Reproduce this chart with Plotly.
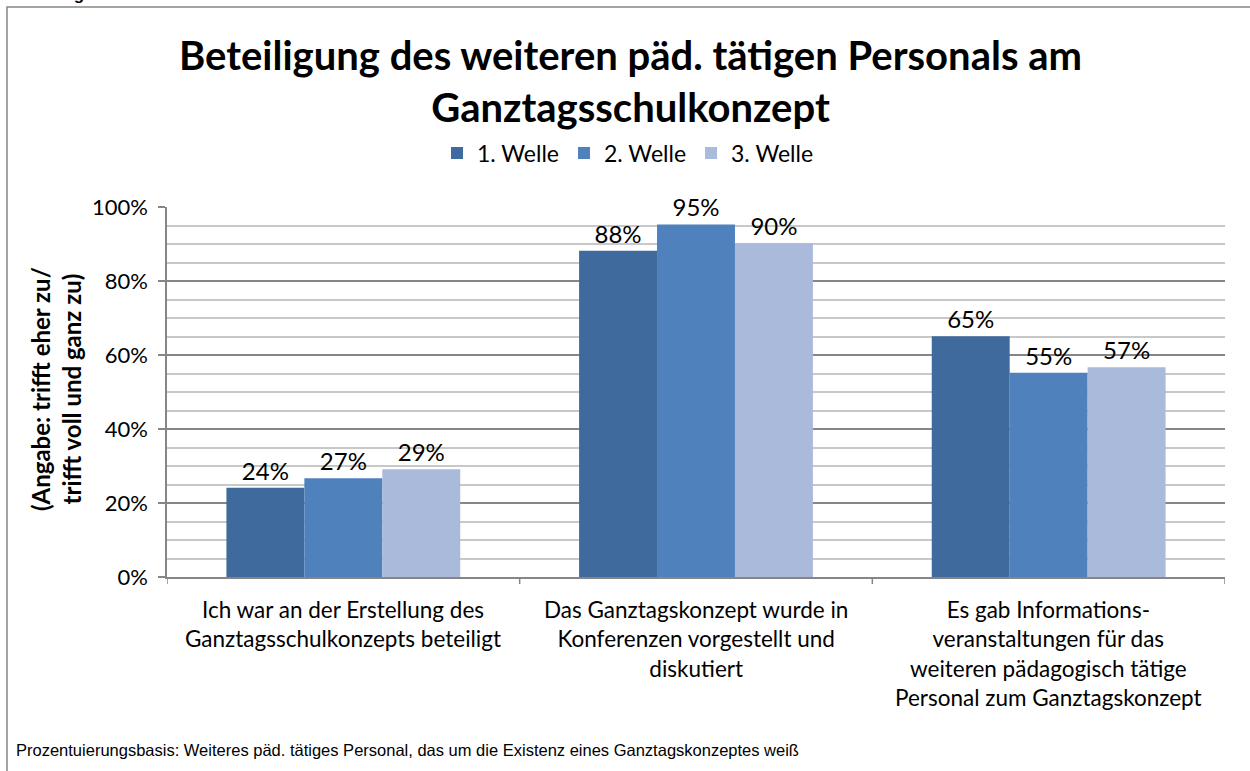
import plotly.graph_objects as go

# Werte in Prozent
kategorien = [
    "Ich war an der Erstellung des<br>Ganztagsschulkonzepts beteiligt",
    "Das Ganztagskonzept wurde in<br>Konferenzen vorgestellt und<br>diskutiert",
    "Es gab Informations-<br>veranstaltungen für das<br>weiteren pädagogisch tätige<br>Personal zum Ganztagskonzept",
]
welle1 = [24.1, 88.2, 65.1]
welle2 = [26.7, 95.3, 55.2]
welle3 = [29.1, 90.2, 56.7]
serien = ["1. Welle", "2. Welle", "3. Welle"]
farben = ["#3E6A9E", "#4F81BD", "#A9BADA"]

W, H = 1250, 771
L, R, T, B = 167, 25, 207, 194
pw, ph = W - L - R, H - T - B


def px_x(x):
    return (x - L) / pw


def px_y(y):
    return (H - B - y) / ph


fig = go.Figure()
for name, vals, col in zip(serien, [welle1, welle2, welle3], farben):
    fig.add_trace(go.Bar(
        x=[0, 1, 2], y=vals, name=name,
        marker=dict(color=col, line=dict(width=0)),
        text=[f"{v:.0f}%" for v in vals],
        textposition="outside",
        textfont=dict(family="Lato", size=24, color="#000000"),
        cliponaxis=False,
    ))

fig.update_layout(
    width=W, height=H,
    margin=dict(l=L, r=R, t=T, b=B),
    paper_bgcolor="white", plot_bgcolor="white",
    barmode="group", bargap=0.337, bargroupgap=0,
    font=dict(family="Lato", color="#000000"),
    showlegend=True,
    legend=dict(orientation="h", x=px_x(628), xanchor="center",
                y=px_y(153), yanchor="middle",
                font=dict(size=23), itemwidth=30, traceorder="normal"),
)

fig.update_xaxes(
    range=[-0.5, 2.5], tickvals=[], showticklabels=False,
    showline=True, linecolor="#868686", linewidth=1.5,
    showgrid=False, zeroline=False,
)
fig.update_yaxes(
    range=[0, 100], dtick=20, ticksuffix="%",
    tickfont=dict(size=22), ticklabelstandoff=6,
    ticks="outside", ticklen=7, tickcolor="#868686", tickwidth=1.5,
    showline=True, linecolor="#868686", linewidth=1.5,
    gridcolor="#868686", gridwidth=1.5, zeroline=False,
    minor=dict(dtick=5, showgrid=True, gridcolor="#C8C8C8", gridwidth=1.5),
)

# x-Achsen-Teilstriche zwischen den Kategorien
for xb in [-0.5, 0.5, 1.5, 2.5]:
    fig.add_shape(type="line", xref="x", yref="paper", x0=xb, x1=xb,
                  y0=0, y1=-7 / ph, line=dict(color="#868686", width=1.5))

# Kategoriebeschriftungen
for i, k in enumerate(kategorien):
    fig.add_annotation(x=i, xref="x", y=px_y(594), yref="paper",
                       text=k, showarrow=False, xanchor="center", yanchor="top",
                       font=dict(family="Lato", size=22.5))

# Titel
fig.add_annotation(x=px_x(630), xref="paper", y=px_y(81), yref="paper",
                   text="<b>Beteiligung des weiteren päd. tätigen Personals am<br>Ganztagsschulkonzept</b>",
                   showarrow=False, xanchor="center", yanchor="middle",
                   font=dict(family="Lato", size=40))

# y-Achsentitel
fig.add_annotation(x=px_x(56), xref="paper", y=px_y(389), yref="paper",
                   text="<b>(Angabe: trifft eher zu/<br>trifft voll und ganz zu)</b>",
                   showarrow=False, textangle=-90, xanchor="center", yanchor="middle",
                   font=dict(family="Lato", size=24))

# Fußnote
fig.add_annotation(x=px_x(14), xref="paper", y=px_y(750), yref="paper",
                   text="Prozentuierungsbasis: Weiteres päd. tätiges Personal, das um die Existenz eines Ganztagskonzeptes weiß",
                   showarrow=False, xanchor="left", yanchor="middle",
                   font=dict(family="Liberation Sans", size=16.5))

# abgeschnittene Überschrift oben links
fig.add_annotation(x=px_x(-2), xref="paper", y=px_y(6), yref="paper",
                   text="<b>Abbildung 1:</b>", showarrow=False,
                   xanchor="left", yanchor="bottom",
                   font=dict(family="Liberation Sans", size=17))

# Rahmen um die Abbildung
fig.add_shape(type="rect", xref="paper", yref="paper",
              x0=px_x(7), x1=px_x(1262), y0=px_y(7), y1=px_y(790),
              line=dict(color="#868686", width=1.5), fillcolor="rgba(0,0,0,0)",
              layer="below")

fig.write_html("out.html", config={"displayModeBar": False},
               post_script="document.body.style.margin='0';")
